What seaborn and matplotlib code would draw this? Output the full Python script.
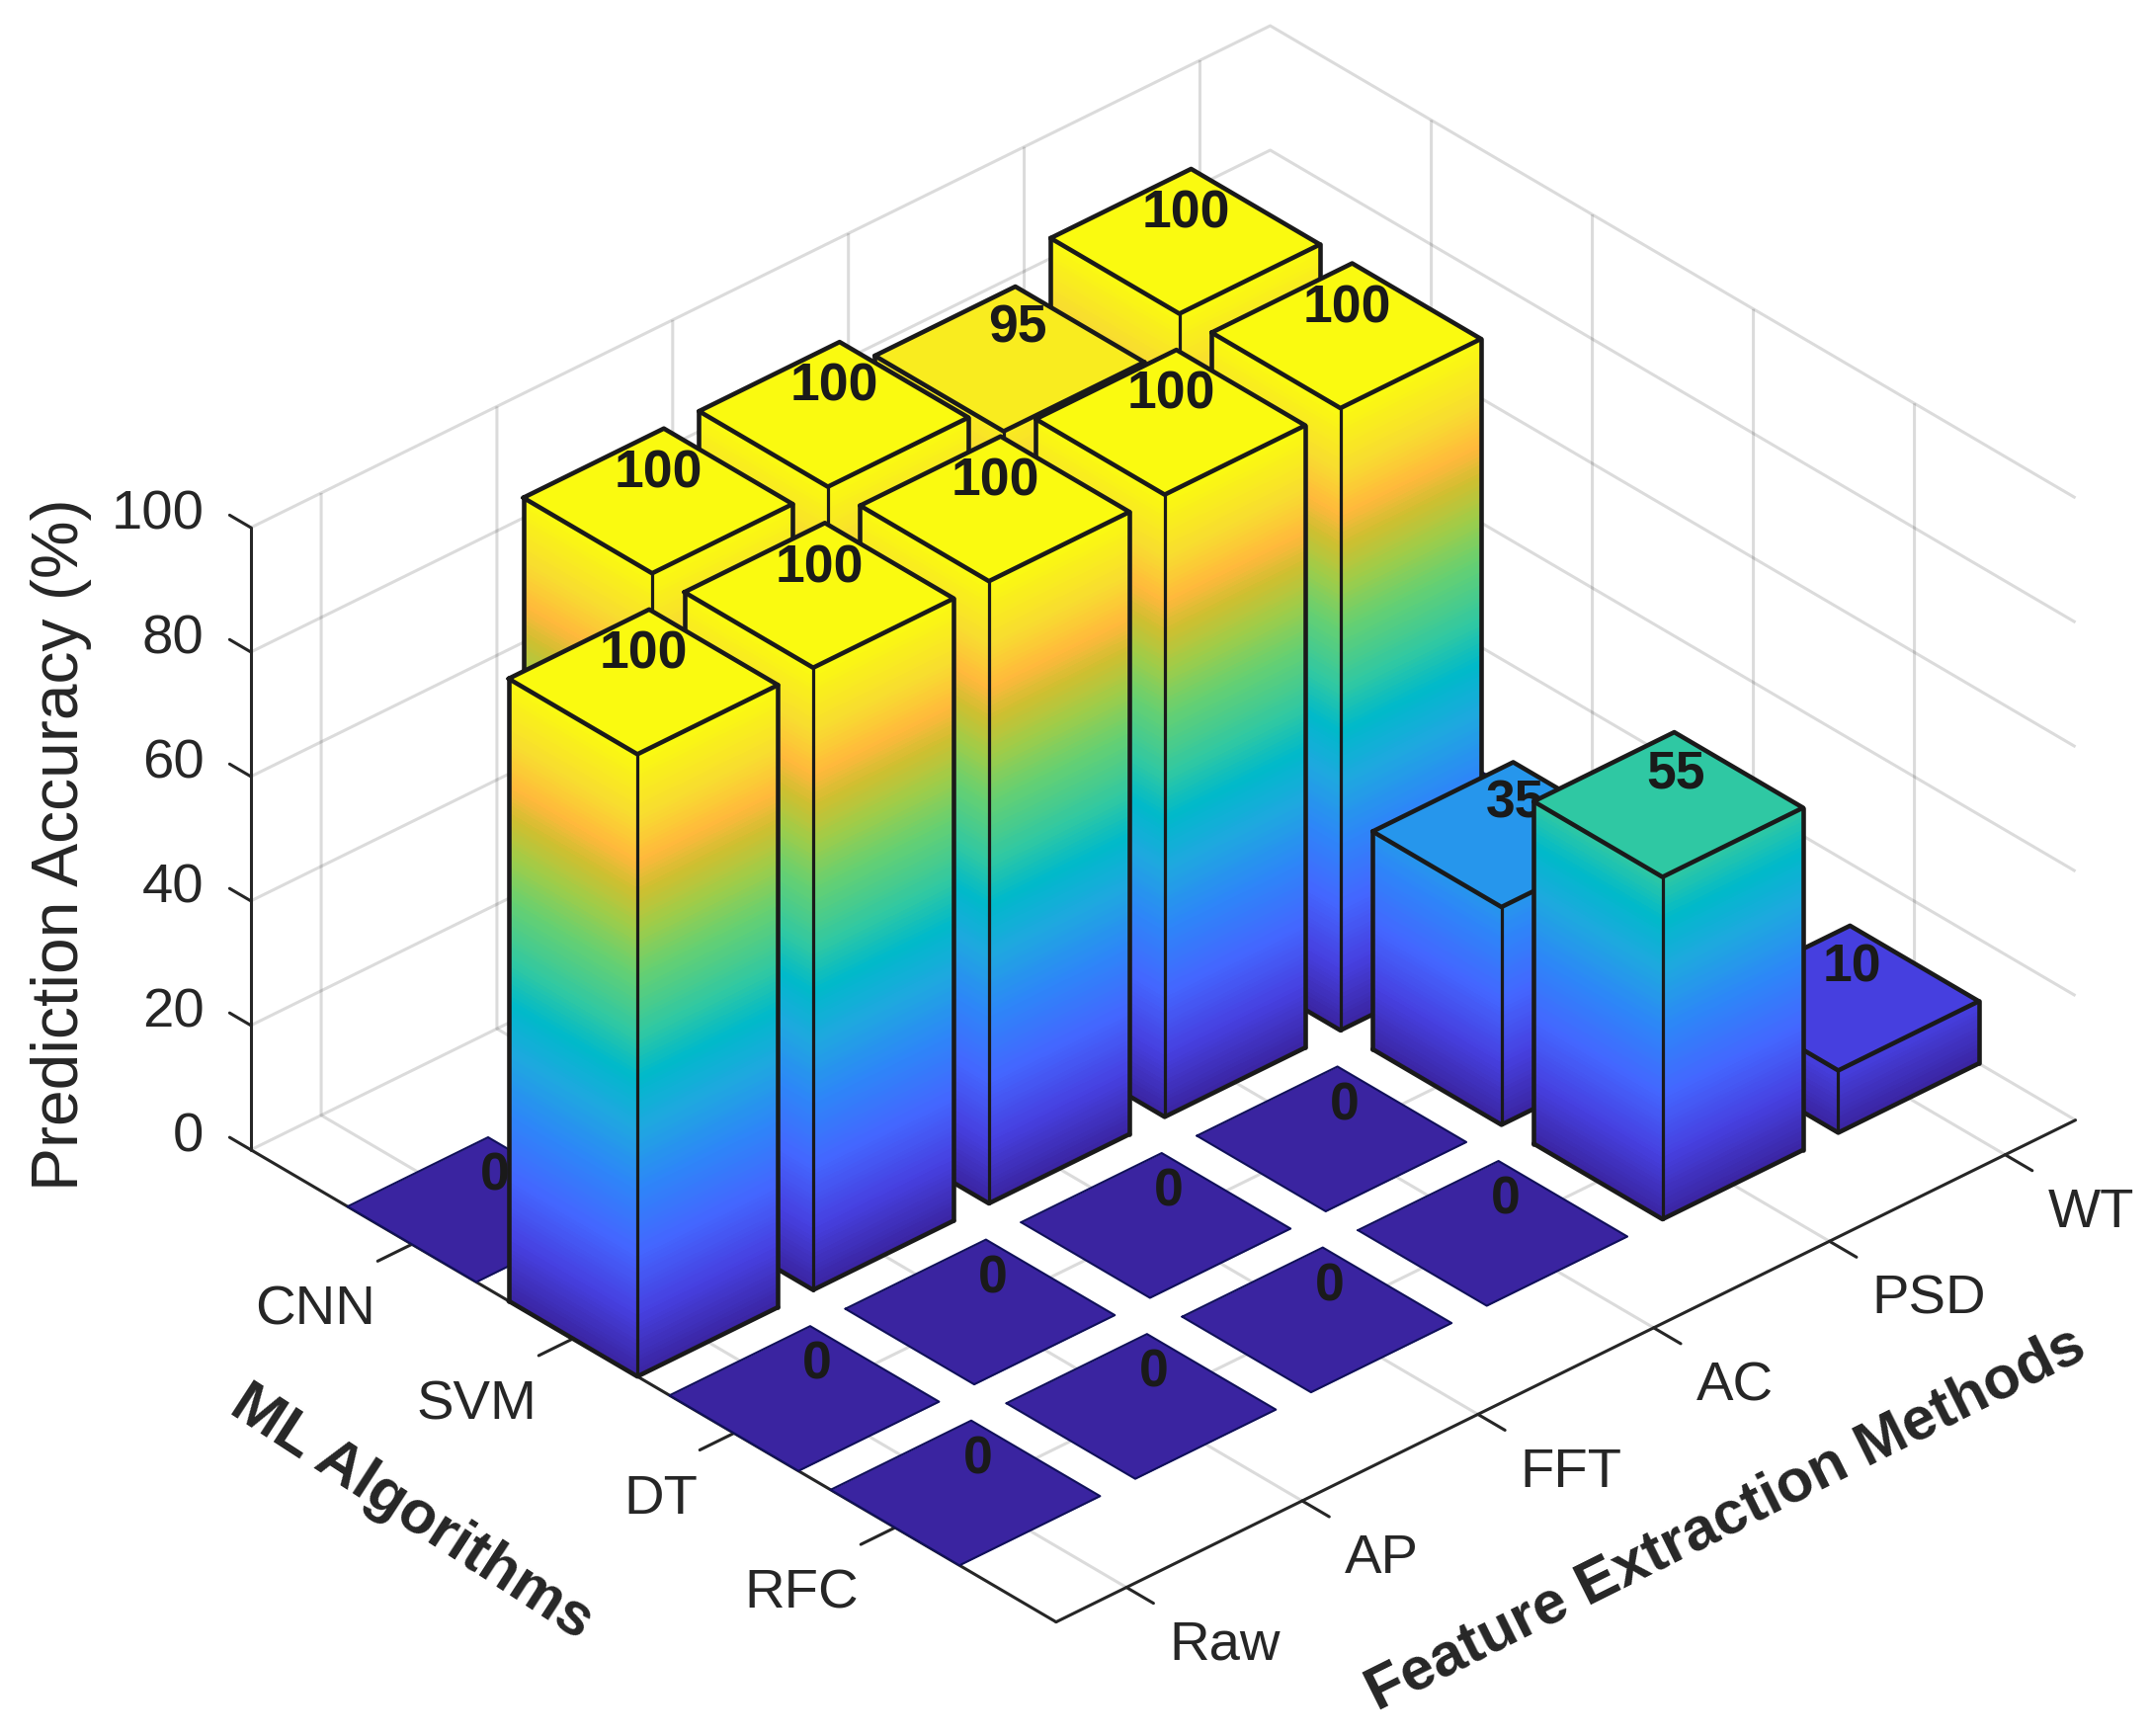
import matplotlib
matplotlib.use('Agg')
import matplotlib.pyplot as plt
from matplotlib.colors import LinearSegmentedColormap
from mpl_toolkits.mplot3d import proj3d
import numpy as np
import seaborn as sns

# Valores
algoritmos = ['CNN', 'SVM', 'DT', 'RFC']
metodos = ['Raw', 'AP', 'FFT', 'AC', 'PSD', 'WT']
acc_cnn = [0, 100, 100, 95, 100, 0]
acc_svm = [100, 100, 100, 100, 100, 0]
acc_dt = [0, 0, 0, 0, 35, 0]
acc_rfc = [0, 0, 0, 0, 55, 10]
z_ticks = [0, 20, 40, 60, 80, 100]

sns.set_theme(style='white')
plt.rcParams['font.family'] = ['Liberation Sans', 'DejaVu Sans']

# colormap parecido com o do original
cores = [(0.00, '#3a24a0'), (0.10, '#4640e0'), (0.20, '#4466ff'), (0.30, '#2e85f8'),
         (0.40, '#1ea8df'), (0.48, '#00b9ca'), (0.55, '#30c8a2'), (0.65, '#68d070'),
         (0.72, '#a0cc48'), (0.78, '#cfbf30'), (0.83, '#ffb83c'), (0.90, '#f8dc30'),
         (1.00, '#fafa10')]
cmap = LinearSegmentedColormap.from_list('quase_parula', cores, N=256)

ELEV, AZIM = 32.5, -42.5
XLIM = (0, 5)
YLIM = (0.6, 6.4)
LARGURA = 0.4

fig = plt.figure(figsize=(21.76, 17.58), dpi=100)
# eixo quadrado maior que a figura, senão o 3D corta as barras
ax = fig.add_axes([0.0275, -0.1105, 1, 1.2378], projection='3d', proj_type='ortho', computed_zorder=False)
ax.view_init(elev=ELEV, azim=AZIM)
ax.set_xlim(*XLIM)
ax.set_ylim(*YLIM)
ax.set_zlim(0, 100)
ax.set_box_aspect((XLIM[1] - XLIM[0], YLIM[1] - YLIM[0], 3.095), zoom=0.889)


def face(xs, ys, z0, z1, ordem):
    # uma face vertical com gradiente pela altura
    zz = np.linspace(z0, z1, max(int(z1 * 1.5), 2) + 1)
    X, Z = np.meshgrid(xs, zz)
    Y = np.tile(ys, (len(zz), 1))
    mid = (Z[:-1, :-1] + Z[1:, 1:]) / 2
    ax.plot_surface(X, Y, Z, facecolors=cmap(mid / 100), shade=False, rstride=1, cstride=1,
                    linewidth=0, antialiased=False, zorder=ordem)


def barra(xc, yc, h, ordem):
    x0, x1 = xc - LARGURA, xc + LARGURA
    y0, y1 = yc - LARGURA, yc + LARGURA
    lw = 3.3
    if h > 0:
        face([x1, x1], [y0, y1], 0, h, ordem)
        face([x0, x1], [y0, y0], 0, h, ordem)
        ax.plot([x0, x0], [y0, y0], [0, h], color='k', lw=lw, zorder=ordem + .1)
        ax.plot([x1, x1], [y0, y0], [0, h], color='k', lw=lw - 1, zorder=ordem + .1)
        ax.plot([x1, x1], [y1, y1], [0, h], color='k', lw=lw, zorder=ordem + .1)
        ax.plot([x0, x1, x1], [y0, y0, y1], [0, 0, 0], color='k', lw=lw, zorder=ordem + .1)
    # topo
    cor = cmap(h / 100)
    ax.plot_surface(np.array([[x0, x1], [x0, x1]]), np.array([[y0, y0], [y1, y1]]),
                    np.full((2, 2), float(h)), color=cor, shade=False, linewidth=0, zorder=ordem + .05)
    ax.plot([x0, x1, x1, x0, x0], [y0, y0, y1, y1, y0], [h] * 5, color='#10105a' if h == 0 else 'k',
            lw=1.5 if h == 0 else lw, zorder=ordem + .1)
    # rótulo em coordenadas projetadas, para ficar na ordem de profundidade certa
    dy = {1: 0.22, 2: 0.19, 3: 0.15}[len(str(h))]
    px, py, _ = proj3d.proj_transform(xc - 0.16, yc + dy, h, ax.get_proj())
    ax.text2D(px, py, str(h), transform=ax.transData, ha='center', va='center', fontsize=38.5,
              fontweight='bold', color='k', zorder=ordem + .2)


tabela = [acc_cnn, acc_svm, acc_dt, acc_rfc]
for i, linha in enumerate(tabela):
    for j, v in enumerate(linha):
        # de trás para frente: x crescente, y decrescente
        barra(i + 1, j + 1, v, ordem=10 + i * 10 + (5 - j) * 10)

ax.set_xticks(range(1, 5))
ax.set_xticklabels(algoritmos, ha='right')
ax.set_yticks(range(1, 7))
ax.set_yticklabels(metodos, ha='left', va='center')
ax.set_zticks(z_ticks)
ax.set_zticklabels([str(z) for z in z_ticks], ha='right', va='baseline')
ax.tick_params(axis='x', labelsize=40.5, pad=21, colors='#262626')
ax.tick_params(axis='y', labelsize=40.5, pad=35, colors='#262626')
ax.tick_params(axis='z', labelsize=40.5, pad=13, colors='#262626')

for eixo in (ax.xaxis, ax.yaxis, ax.zaxis):
    eixo.set_pane_color((1, 1, 1, 1))
    eixo.pane.set_edgecolor('none')
    eixo.line.set_color('#262626')
    eixo.line.set_linewidth(2.2)
    eixo._axinfo['grid'].update(color=(0, 0, 0, 0.14), linewidth=2.2)
    eixo._axinfo['tick']['linewidth'].update({True: 2.2, False: 2.2})
# o sinal do tique muda conforme o eixo nessa vista
ax.xaxis._axinfo['tick'].update(inward_factor=0.0, outward_factor=-0.42)
ax.yaxis._axinfo['tick'].update(inward_factor=0.0, outward_factor=-0.42)
ax.zaxis._axinfo['tick'].update(inward_factor=0.0, outward_factor=0.33)
ax.grid(True)
ax.zaxis._axinfo['juggled'] = (1, 2, 0)

fig.text(0.0285, 0.5136, 'Prediction Accuracy (%)', rotation=90, fontsize=47.5, color='#262626',
         ha='center', va='center')
fig.text(0.1913, 0.129, 'ML Algorithms', rotation=-33, fontsize=44, fontweight='bold',
         color='#262626', ha='center', va='center', rotation_mode='anchor')
fig.text(0.803, 0.125, 'Feature Extraction Methods', rotation=26.5, fontsize=44, fontweight='bold',
         color='#262626', ha='center', va='center', rotation_mode='anchor')

fig.savefig('out.png', dpi=100)
